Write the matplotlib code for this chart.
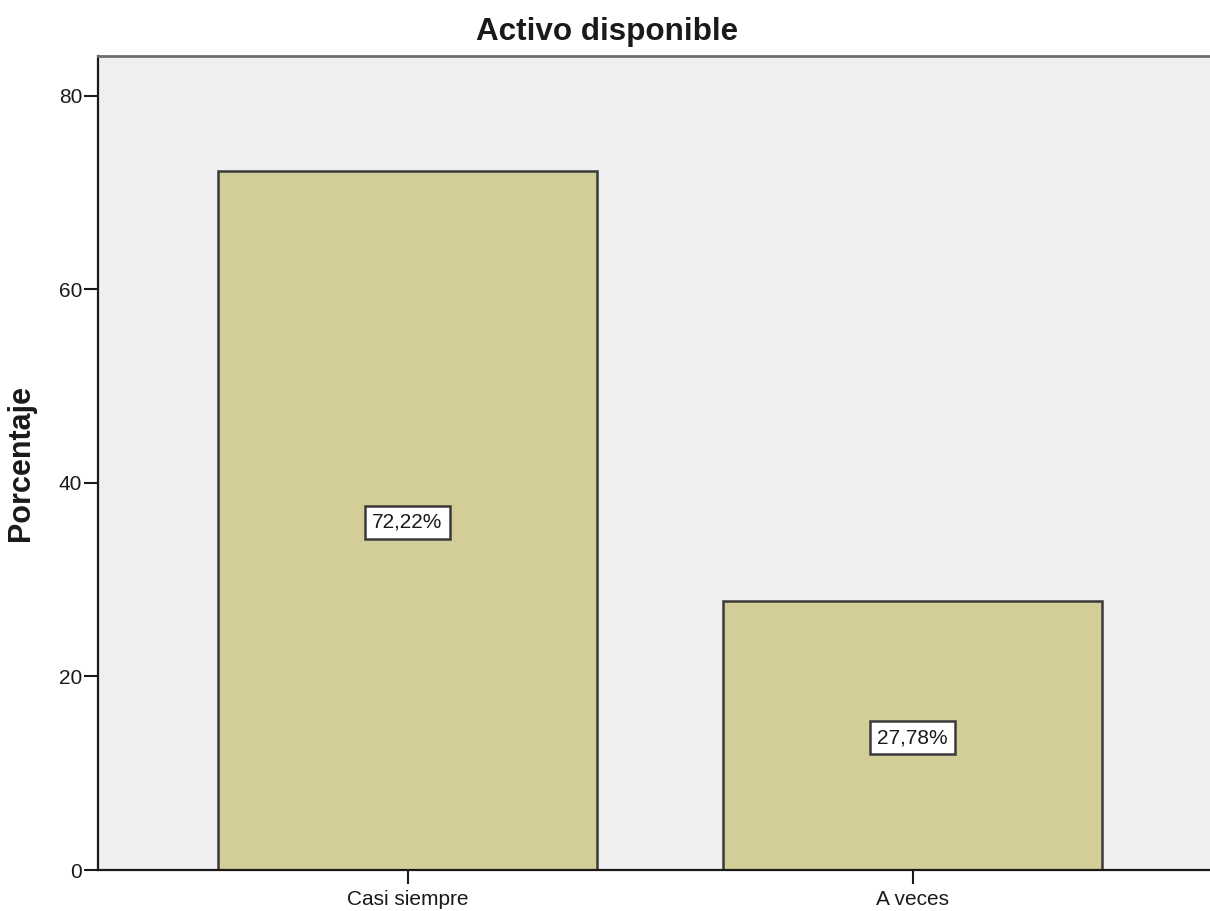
import matplotlib
matplotlib.use("Agg")
import matplotlib.pyplot as plt

plt.rcParams['font.family'] = ['Liberation Sans', 'DejaVu Sans']

categories = ["Casi siempre", "A veces"]
percentages = [72.22, 27.78]
bar_labels = ["72,22%", "27,78%"]
y_ticks = [0, 20, 40, 60, 80]

fig = plt.figure(figsize=(12.10, 9.11), dpi=100)
ax = fig.add_axes([98 / 1210, 1 - 870 / 911, 1 - 98 / 1210, (870 - 56) / 911])
ax.set_facecolor("#efefef")

x = list(range(len(categories)))
bars = ax.bar(x, percentages, width=0.75, color="#d3ce97",
              edgecolor="#3a3a3a", linewidth=1.8, zorder=2)

for xi, val, lab in zip(x, percentages, bar_labels):
    ax.text(xi, val / 2, lab, ha="center", va="center_baseline", fontsize=15,
            color="#1a1a1a", zorder=3,
            bbox=dict(boxstyle="square,pad=0.35", facecolor="white",
                      edgecolor="#3a3a3a", linewidth=1.8))

ax.set_xlim(-0.613, 1.589)
ax.set_ylim(0, 84.1)
ax.set_xticks(x)
ax.set_xticklabels(categories, fontsize=15, color="#1a1a1a")
ax.set_yticks(y_ticks)
ax.set_yticklabels([str(t) for t in y_ticks], fontsize=15, color="#1a1a1a")
ax.tick_params(axis="y", direction="out", length=10, width=1.5, color="#1a1a1a", pad=1.5)
ax.tick_params(axis="x", direction="out", length=10, width=1.5, color="#1a1a1a", pad=4.5)

for side in ("left", "bottom"):
    ax.spines[side].set_color("#1a1a1a")
    ax.spines[side].set_linewidth(1.6)
ax.spines["top"].set_color("#6e6e6e")
ax.spines["top"].set_linewidth(2)
ax.spines["right"].set_visible(False)

ax.set_ylabel("Porcentaje", fontsize=22, fontweight="bold", color="#1a1a1a", labelpad=16)
fig.text(607 / 1210, 1 - 40 / 911, "Activo disponible", ha="center", va="baseline",
         fontsize=22.6, fontweight="bold", color="#1a1a1a")

fig.savefig("out.png", dpi=100, facecolor="white")
